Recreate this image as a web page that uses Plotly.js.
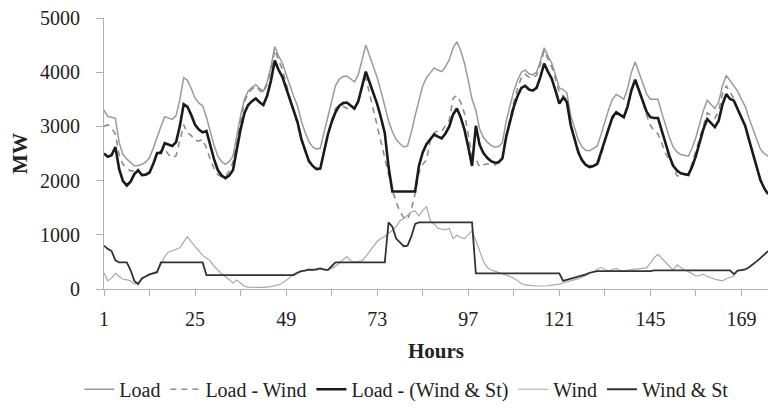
<!DOCTYPE html>
<html>
<head>
<meta charset="utf-8">
<script src="https://cdn.plot.ly/plotly-3.0.1.min.js"></script>
<style>html,body{margin:0;padding:0;background:#fff;}#chart{width:770px;height:411px;}</style>
</head>
<body>
<div id="chart"></div>
<script>
// Hours 1..176
var hours = [];
for (var h = 1; h <= 176; h++) hours.push(h);

var load = [3300,3180,3170,3150,2700,2480,2400,2330,2270,2280,2300,2340,2420,2600,2820,3000,3180,3160,3130,3200,
3500,3900,3850,3700,3520,3430,3380,3170,2910,2650,2450,2350,2300,2350,2450,2850,3200,3500,3650,3720,
3770,3700,3650,3820,4100,4470,4300,4170,3950,3750,3550,3380,3100,2890,2720,2620,2580,2600,2900,3200,
3500,3750,3870,3920,3930,3870,3820,3950,4250,4500,4300,4100,3900,3650,3370,3100,2900,2760,2680,2620,
2640,2890,3200,3500,3750,3900,4000,4080,4040,4010,4100,4230,4450,4560,4400,4170,3850,3500,3300,2950,
2800,2710,2650,2620,2630,2700,3100,3400,3650,3850,4000,4040,3970,3950,4000,4200,4450,4300,4170,3950,
3710,3680,3620,3200,2950,2750,2620,2560,2550,2590,2640,2850,3100,3310,3500,3590,3550,3500,3700,4000,
4190,4000,3830,3600,3500,3500,3500,3250,3000,2800,2620,2530,2480,2460,2450,2600,2800,3050,3300,3480,
3400,3330,3450,3750,3940,3850,3750,3650,3500,3370,3150,2950,2750,2580,2500,2450];

var loadMinusWind = [3000,3030,2970,2860,2470,2300,2230,2180,2180,2160,2120,2100,2150,2300,2490,2550,2580,2480,2420,2460,
2740,3030,2880,2830,2740,2730,2760,2600,2390,2230,2110,2070,2070,2180,2340,2685,3100,3450,3615,3690,
3740,3670,3620,3785,4055,4410,4225,4060,3790,3540,3270,3070,2770,2540,2380,2250,2230,2230,2550,2840,
3120,3330,3390,3370,3330,3350,3320,3440,3730,3900,3600,3310,3020,2720,2400,2070,1820,1610,1420,1320,
1280,1470,1760,2150,2300,2380,2740,2880,2920,2910,3010,3110,3520,3570,3450,3240,2850,2430,2400,2250,
2290,2310,2300,2290,2330,2420,2840,3170,3450,3700,3900,3965,3905,3890,3945,4145,4395,4240,4100,3875,
3620,3570,3490,3050,2785,2560,2400,2310,2270,2270,2280,2450,2740,2980,3140,3210,3210,3170,3350,3640,
3825,3630,3450,3210,3020,2920,2860,2690,2500,2380,2270,2090,2080,2110,2130,2320,2560,2800,3025,3250,
3200,3150,3285,3600,3750,3640,3510,3310,3150,3010,2750,2500,2240,2010,1860,1750];

var loadMinusWindSt = [2500,2440,2470,2620,2210,1990,1910,1980,2120,2190,2100,2110,2150,2310,2510,2510,2690,2670,2640,2710,
3010,3410,3360,3210,3030,2940,2890,2915,2655,2395,2195,2095,2045,2095,2195,2595,2945,3245,3395,3465,
3515,3445,3395,3565,3845,4215,4045,3915,3695,3495,3295,3080,2770,2550,2360,2270,2210,2220,2540,2850,
3080,3260,3380,3430,3440,3380,3330,3460,3760,4010,3810,3610,3410,3160,2880,2250,1800,1800,1800,1800,
1800,1800,1800,2270,2520,2670,2770,2850,2810,2780,2870,3000,3220,3330,3170,2940,2620,2270,3010,2660,
2510,2420,2360,2330,2340,2410,2810,3110,3360,3560,3710,3750,3680,3660,3710,3910,4160,4010,3880,3660,
3420,3530,3450,3020,2750,2520,2370,2290,2250,2270,2310,2520,2770,2980,3170,3260,3220,3170,3370,3670,
3860,3670,3500,3270,3170,3155,3155,2905,2655,2455,2275,2185,2135,2115,2105,2255,2455,2705,2955,3135,
3055,2985,3105,3405,3595,3505,3475,3310,3150,3010,2750,2500,2240,2010,1860,1750];

var wind = [300,150,200,290,230,180,170,150,90,120,180,240,270,300,330,450,600,680,710,740,
760,870,970,870,780,700,620,570,520,420,340,280,230,170,110,165,100,50,35,30,
30,30,30,35,45,60,75,110,160,210,280,310,330,350,340,370,350,370,350,360,
380,420,480,550,600,520,500,510,520,600,700,790,880,930,970,1030,1080,1150,1260,1300,
1360,1420,1440,1350,1450,1520,1260,1200,1120,1100,1090,1120,930,990,950,930,1000,1070,900,700,
510,400,350,330,300,280,260,230,200,150,100,75,65,60,55,55,55,60,70,75,
90,110,130,150,165,190,220,250,280,320,360,400,360,330,360,380,340,330,350,360,
365,370,380,390,480,580,640,560,500,420,350,440,400,350,320,280,240,250,275,230,
200,180,165,150,190,210,240,340,350,360,400,450,510,570,640,700];

var windSt = [800,740,700,530,490,490,490,350,150,90,200,230,270,290,310,490,490,490,490,490,
490,490,490,490,490,490,490,255,255,255,255,255,255,255,255,255,255,255,255,255,
255,255,255,255,255,255,255,255,255,255,255,300,330,340,360,350,370,380,360,350,
420,490,490,490,490,490,490,490,490,490,490,490,490,490,490,1230,1150,930,850,790,
800,970,1200,1230,1230,1230,1230,1230,1230,1230,1230,1230,1230,1230,1230,1230,1230,1230,290,290,
290,290,290,290,290,290,290,290,290,290,290,290,290,290,290,290,290,290,290,290,
290,150,170,180,200,230,250,270,300,320,330,330,330,330,330,330,330,330,330,330,
330,330,330,330,330,345,345,345,345,345,345,345,345,345,345,345,345,345,345,345,
345,345,345,345,345,345,275,340,350,360,400,450,510,570,640,700];

var tickVals = [1,13,25,37,49,61,73,85,97,109,121,133,145,157,169];
var tickText = ['1','','25','','49','','73','','97','','121','','145','','169'];

var serif = 'Liberation Serif, Times New Roman, serif';

var traces = [
  {x: hours, y: load, name: 'Load', mode: 'lines', line: {color: '#9a9a9a', width: 1.5}},
  {x: hours, y: loadMinusWind, name: 'Load - Wind', mode: 'lines', line: {color: '#8c8c8c', width: 1.6, dash: '6px,5px'}},
  {x: hours, y: loadMinusWindSt, name: 'Load - (Wind & St)', mode: 'lines', line: {color: '#1a1a1a', width: 2.6}},
  {x: hours, y: wind, name: 'Wind', mode: 'lines', line: {color: '#a8a8a8', width: 1.2}},
  {x: hours, y: windSt, name: 'Wind & St', mode: 'lines', line: {color: '#333333', width: 1.8}}
];

var layout = {
  width: 770, height: 411,
  margin: {l: 104, r: 2, t: 18, b: 120},
  paper_bgcolor: '#ffffff', plot_bgcolor: '#ffffff',
  font: {family: serif, size: 20, color: '#222'},
  showlegend: true,
  legend: {orientation: 'h', x: 0.456, xanchor: 'center', y: -0.37, yanchor: 'middle',
           font: {family: serif, size: 20, color: '#222'}, itemwidth: 30, tracegroupgap: 0},
  xaxis: {
    range: [1, 176], tickmode: 'array', tickvals: tickVals, ticktext: tickText,
    ticks: 'outside', ticklen: 6, tickcolor: '#b0b0b0', showline: true, linecolor: '#b0b0b0', linewidth: 1,
    showgrid: false, zeroline: false, ticklabelstandoff: 6,
    tickfont: {family: serif, size: 20, color: '#222'},
    title: {text: '<b>Hours</b>', font: {family: serif, size: 21, color: '#222'}, standoff: 14}
  },
  yaxis: {
    range: [0, 5000], dtick: 1000, tick0: 0,
    ticks: 'outside', ticklen: 7, tickcolor: '#b0b0b0', showline: true, linecolor: '#b0b0b0', linewidth: 1,
    showgrid: false, zeroline: false, ticklabelstandoff: 12,
    tickfont: {family: serif, size: 20, color: '#222'},
    title: {text: '<b>MW</b>', font: {family: serif, size: 21, color: '#222'}, standoff: 6}
  }
};

Plotly.newPlot('chart', traces, layout, {staticPlot: true, displayModeBar: false});
</script>
</body>
</html>
